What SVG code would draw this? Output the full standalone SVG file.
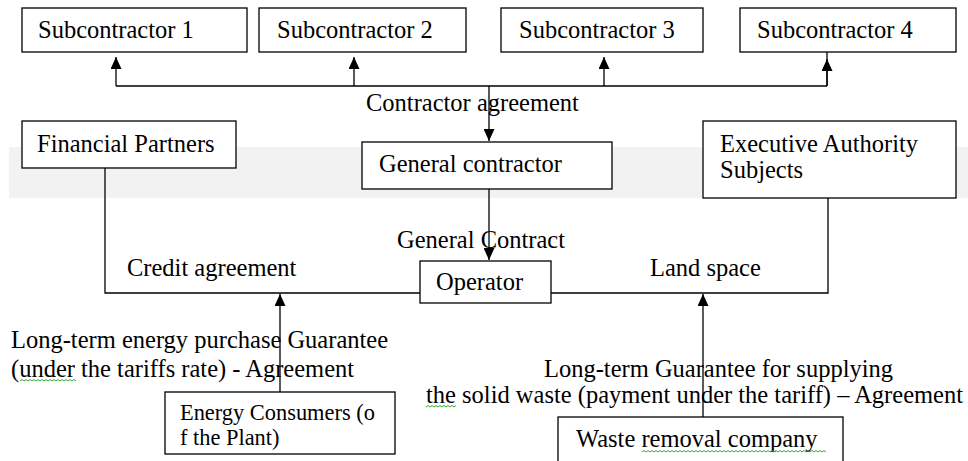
<svg xmlns="http://www.w3.org/2000/svg" width="968" height="461" viewBox="0 0 968 461">
<style>
.box{fill:#fff;stroke:#000;stroke-width:1.3}
.t{font-family:"Liberation Serif","Times New Roman",serif;font-size:24.5px;fill:#000}
.s{font-size:22.4px}
.ln{fill:none;stroke:#000;stroke-width:1.3}
.sq{fill:none;stroke:#3a3;stroke-width:1}
</style>
<defs>
<marker id="ah" markerWidth="12" markerHeight="11" refX="12" refY="5.5" orient="auto" markerUnits="userSpaceOnUse" viewBox="0 0 12 11">
<path d="M0,0 L12,5.5 L0,11 Z" fill="#000"/>
</marker>
</defs>
<rect x="9" y="147" width="959" height="51" fill="#f2f2f2"/>
<g id="connectors">
<path class="ln" d="M116,86 H827"/>
<path class="ln" d="M116,86 V57" marker-end="url(#ah)"/>
<path class="ln" d="M354,86 V57" marker-end="url(#ah)"/>
<path class="ln" d="M604,86 V57" marker-end="url(#ah)"/>
<path class="ln" d="M827,86 V52"/>
<path class="ln" d="M827,86 V59" marker-end="url(#ah)"/>
<path class="ln" d="M489,86 V141" marker-end="url(#ah)"/>
<path class="ln" d="M489,189 V260" marker-end="url(#ah)"/>
<path class="ln" d="M105,168 V293 H420"/>
<path class="ln" d="M551,293 H828 V198"/>
<path class="ln" d="M280,392 V294" marker-end="url(#ah)"/>
<path class="ln" d="M703,417 V294" marker-end="url(#ah)"/>
</g>
<g id="sub1"><rect class="box" x="22" y="8" width="225" height="44"/><text class="t" x="38" y="38">Subcontractor 1</text></g>
<g id="sub2"><rect class="box" x="259" y="8" width="207" height="44"/><text class="t" x="277" y="38">Subcontractor 2</text></g>
<g id="sub3"><rect class="box" x="501" y="8" width="202" height="44"/><text class="t" x="519" y="38">Subcontractor 3</text></g>
<g id="sub4"><rect class="box" x="740" y="8" width="216" height="44"/><text class="t" x="757" y="38">Subcontractor 4</text></g>
<g id="financial"><rect class="box" x="22" y="121" width="214" height="47"/><text class="t" x="37" y="152">Financial Partners</text></g>
<g id="general"><rect class="box" x="362" y="142" width="250" height="47"/><text class="t" x="379" y="172">General contractor</text></g>
<g id="executive"><rect class="box" x="703" y="121" width="253" height="77"/><text class="t" x="720" y="152">Executive Authority</text><text class="t" x="720" y="178">Subjects</text></g>
<g id="operator"><rect class="box" x="420" y="261" width="131" height="42"/><text class="t" x="436" y="290">Operator</text></g>
<g id="consumers"><rect class="box" x="165" y="392" width="230" height="62"/><text class="t s" x="180" y="420">Energy Consumers (o</text><text class="t s" x="180" y="445">f the Plant)</text></g>
<g id="waste"><rect class="box" x="558" y="417" width="285" height="50"/><text class="t" x="576" y="447">Waste removal company</text>
<path class="sq" d="M642,452 l2,-1.5 l2,1.5 l2,-1.5 l2,1.5 l2,-1.5 l2,1.5 l2,-1.5 l2,1.5 l2,-1.5 l2,1.5 l2,-1.5 l2,1.5 l2,-1.5 l2,1.5 l2,-1.5 l2,1.5 l2,-1.5 l2,1.5 l2,-1.5 l2,1.5 l2,-1.5 l2,1.5 l2,-1.5 l2,1.5 l2,-1.5 l2,1.5 l2,-1.5 l2,1.5 l2,-1.5 l2,1.5 l2,-1.5 l2,1.5 l2,-1.5 l2,1.5 l2,-1.5 l2,1.5 l2,-1.5 l2,1.5 l2,-1.5 l2,1.5 l2,-1.5 l2,1.5 l2,-1.5 l2,1.5 l2,-1.5 l2,1.5 l2,-1.5 l2,1.5 l2,-1.5 l2,1.5 l2,-1.5 l2,1.5 l2,-1.5 l2,1.5 l2,-1.5 l2,1.5 l2,-1.5 l2,1.5 l2,-1.5 l2,1.5 l2,-1.5 l2,1.5 l2,-1.5 l2,1.5 l2,-1.5 l2,1.5 l2,-1.5 l2,1.5 l2,-1.5 l2,1.5 l2,-1.5 l2,1.5 l2,-1.5 l2,1.5 l2,-1.5 l2,1.5 l2,-1.5 l2,1.5 l2,-1.5 l2,1.5 l2,-1.5 l2,1.5 l2,-1.5 l2,1.5 l2,-1.5 l2,1.5 l2,-1.5 l2,1.5 l2,-1.5 l2,1.5 l2,-1.5 l2,1.5"/></g>
<g id="labels">
<text class="t" x="366" y="111">Contractor agreement</text>
<text class="t" x="397" y="248">General Contract</text>
<text class="t" x="127" y="276">Credit agreement</text>
<text class="t" x="650" y="276">Land space</text>
<text class="t" x="11" y="348">Long-term energy purchase Guarantee</text>
<text class="t" x="11" y="377">(under the tariffs rate) - Agreement</text>
<text class="t" x="544" y="377">Long-term Guarantee for supplying</text>
<text class="t" x="426" y="403">the solid waste (payment under the tariff) – Agreement</text>
<path class="sq" d="M20,381 l2,-1.5 l2,1.5 l2,-1.5 l2,1.5 l2,-1.5 l2,1.5 l2,-1.5 l2,1.5 l2,-1.5 l2,1.5 l2,-1.5 l2,1.5 l2,-1.5 l2,1.5 l2,-1.5 l2,1.5 l2,-1.5 l2,1.5 l2,-1.5 l2,1.5 l2,-1.5 l2,1.5 l2,-1.5 l2,1.5 l2,-1.5 l2,1.5 l2,-1.5 l2,1.5"/>
<path class="sq" d="M426,407 l2,-1.5 l2,1.5 l2,-1.5 l2,1.5 l2,-1.5 l2,1.5 l2,-1.5 l2,1.5 l2,-1.5 l2,1.5 l2,-1.5 l2,1.5 l2,-1.5 l2,1.5 l2,-1.5"/>
</g>
</svg>
